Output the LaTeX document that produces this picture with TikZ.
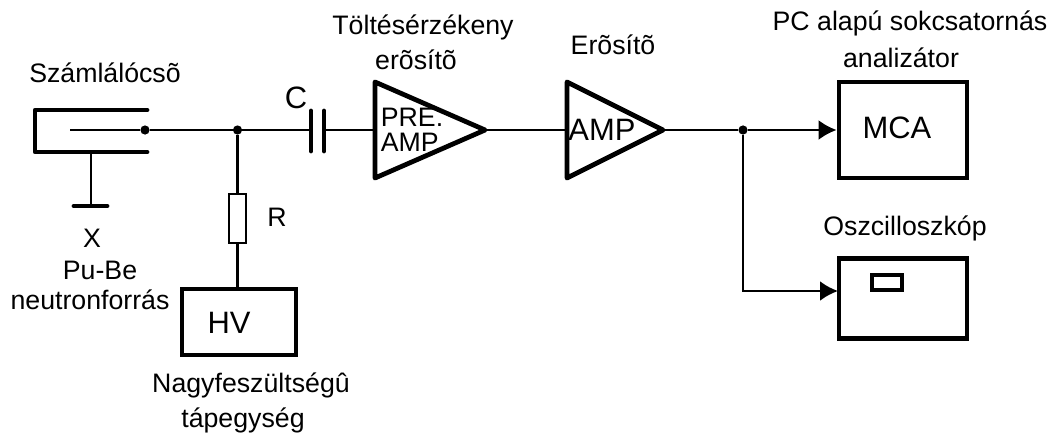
\documentclass[tikz,border=0pt]{standalone}
\usepackage{fontspec}
\setmainfont{Liberation Sans}
\usetikzlibrary{shapes.geometric}
\usetikzlibrary{arrows.meta}
\newcommand{\lab}{\fontsize{19}{21}\selectfont}
\newcommand{\biglab}{\fontsize{22}{24}\selectfont}
\tikzset{
  wire/.style={draw=black,line width=1.9pt},
  heavy/.style={draw=black,line width=3.4pt,line cap=round,line join=round},
  dot/.style={circle,fill=black,inner sep=0pt,minimum size=0.23cm},
  box/.style={rectangle,draw=black,line width=3.4pt,inner sep=0pt},
  amp/.style={isosceles triangle,isosceles triangle stretches,draw=black,line width=3.4pt,
              line join=round,inner sep=0pt,outer sep=0pt,minimum height=2.75cm,minimum width=2.4cm,anchor=lower side},
  feed/.style={wire,-{Latex[length=0.45cm,width=0.5cm]}},
  txt/.style={inner sep=0pt,font=\lab},
  bigtxt/.style={inner sep=0pt,font=\biglab}
}
\begin{document}
\begin{tikzpicture}[x=0.025cm,y=-0.025cm]
 \useasboundingbox (0,0) rectangle (1049,434);

 % blocks
 \node[amp] (P) at (375,130) {};
 \node[amp,minimum height=2.4cm] (A) at (567,130) {};
 \node[box,minimum width=3.2cm,minimum height=2.4cm] (M) at (903,130) {};
 \node[box,minimum width=3.2cm,minimum height=2cm] (O) at (903,298.5) {};
 \node[box,line width=2.6pt,minimum width=0.75cm,minimum height=0.38cm] (S) at (887,282.5) {};
 \node[box,minimum width=2.85cm,minimum height=1.65cm] (H) at (239,322) {};
 \node[rectangle,draw=black,line width=1.5pt,minimum width=0.42cm,minimum height=1.22cm,inner sep=0pt] (R) at (237.5,218.5) {};

 % detector
 \draw[heavy] (147,110) -- (35,110) -- (35,152) -- (147,152);
 \coordinate (W) at (70,130);
 \coordinate (G) at (91,152);
 \coordinate (F) at (91,206);
 \draw[heavy] (74,206) -- (107,206);
 \draw[wire] (G) -- (F);

 \node[dot] (D) at (145,130) {};
 \node[dot] (J) at (237.5,130) {};
 \node[dot] (K) at (743,130) {};

 % capacitor
 \coordinate (C1) at (311,130);
 \coordinate (C2) at (324,130);
 \draw[heavy] (311,111) -- (311,151);
 \draw[heavy] (324,111) -- (324,151);

 % wires
 \coordinate (E) at (838,291);
 \draw[wire] (W) -- (D);
 \draw[wire] (D) -- (J);
 \draw[wire] (J) -- (C1);
 \draw[wire] (C2) -- (P.lower side);
 \draw[wire] (J) -- (R.north);
 \draw[wire] (R.south) -- (R.south |- H.north);
 \draw[wire] (P.apex) -- (A.lower side);
 \draw[wire] (A.apex) -- (K);
 \draw[feed] (K) -- (M.west);
 \draw[feed] (K) |- (E);

 % labels
 \node[txt] (l1) at (105,73) {Számlálócsõ};
 \node[bigtxt] (l2) at (296,98) {C};
 \node[txt] (l3) at (277,217) {R};
 \node[txt] (l4) at (92,238) {X};
 \node[txt] (l5) at (100,270) {Pu-Be};
 \node[txt] (l6) at (90,300) {neutronforrás};
 \node[bigtxt] (l7) at (229,323) {HV};
 \node[txt] (l8) at (251,385) {Nagyfeszültségû};
 \node[txt] (l9) at (243,420) {tápegység};
 \node[txt] (l10) at (423,27) {Töltésérzékeny};
 \node[txt] (l11) at (416,60) {erõsítõ};
 \node[txt] (l12) at (613,45) {Erõsítõ};
 \node[txt,font=\fontsize{19}{17.4}\selectfont,align=left] (l13) at (412,130) {PRE.\\AMP.};
 \node[bigtxt] (l15) at (602,130) {AMP};
 \node[txt] (l16) at (910,23) {PC alapú sokcsatornás};
 \node[txt] (l17) at (901,58) {analizátor};
 \node[bigtxt] (l18) at (897,128) {MCA};
 \node[txt] (l19) at (905,228) {Oszcilloszkóp};
\end{tikzpicture}
\end{document}
